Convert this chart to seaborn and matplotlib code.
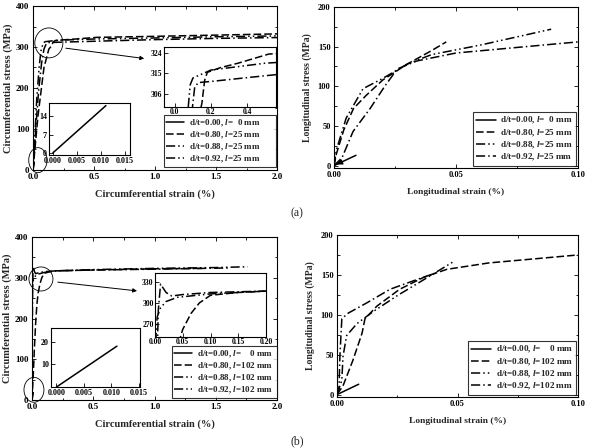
import pandas as pd
import seaborn as sns
import matplotlib
matplotlib.use("Agg")
from matplotlib import pyplot as plt
from matplotlib.patches import Ellipse
from matplotlib.ticker import AutoMinorLocator

# ---- data ----
# (a) circumferential, l = 25 mm
a_circ_x_000 = [0.0, 0.011]
a_circ_y_000 = [0.0, 18.0]
a_circ_x_080 = [0.0, 0.04, 0.09, 0.13, 0.15, 0.165, 0.18, 0.25, 0.35, 0.52, 1.0, 1.5, 2.0]
a_circ_y_080 = [0.0, 130, 250, 295, 302, 312, 315.5, 317.5, 319.5, 323.5, 326, 329, 332]
a_circ_x_088 = [0.0, 0.015, 0.03, 0.05, 0.065, 0.075, 0.085, 0.1, 0.2, 0.3, 0.5, 1.0, 1.5, 2.0]
a_circ_y_088 = [0.0, 80, 170, 250, 290, 301, 310, 313, 316.5, 317.5, 319.5, 322, 325, 327]
a_circ_x_092 = [0.0, 0.02, 0.045, 0.07, 0.09, 0.1, 0.11, 0.13, 0.2, 0.5, 1.0, 1.5, 2.0]
a_circ_y_092 = [0.0, 90, 190, 260, 295, 302, 309, 311, 311.5, 314, 318, 321, 323]

# (a) longitudinal, l = 25 mm
a_long_x_000 = [0.0, 0.009]
a_long_y_000 = [0.0, 13.0]
a_long_x_080 = [0.0, 0.001, 0.004, 0.008, 0.013, 0.02, 0.03, 0.04, 0.046]
a_long_y_080 = [0.0, 15, 45, 72, 88, 108, 128, 145, 156]
a_long_x_088 = [0.0, 0.001, 0.005, 0.0119, 0.02, 0.03, 0.04, 0.06, 0.089]
a_long_y_088 = [0.0, 20, 60, 97, 110, 128, 140, 152, 172]
a_long_x_092 = [0.0, 0.0033, 0.0078, 0.0148, 0.021, 0.026, 0.034, 0.05, 0.1]
a_long_y_092 = [0.0, 10, 43, 72, 101, 122, 132, 142, 156]

# (b) circumferential, l = 102 mm
b_circ_x_000 = [0.0, 0.011]
b_circ_y_000 = [0.0, 18.0]
b_circ_x_080 = [0.0, 0.01, 0.02, 0.03, 0.04, 0.05, 0.065, 0.08, 0.1, 0.15, 0.2, 0.5, 1.0, 1.4]
b_circ_y_080 = [0.0, 60, 130, 190, 235, 262, 285, 300, 311, 315, 317, 319, 322, 323]
b_circ_x_088 = [0.0, 0.001, 0.002, 0.004, 0.01, 0.02, 0.04, 0.1, 0.2, 0.5, 1.0, 1.5, 1.76]
b_circ_y_088 = [0.0, 150, 258, 280, 293, 302, 308, 313, 317, 320, 323, 325, 327]
b_circ_x_092 = [0.0, 0.003, 0.006, 0.01, 0.02, 0.03, 0.05, 0.1, 0.2, 0.5, 1.0, 1.6]
b_circ_y_092 = [0.0, 200, 290, 327, 315, 310, 312, 315, 317, 319, 321, 324]

# (b) longitudinal, l = 102 mm
b_long_x_000 = [0.0, 0.009]
b_long_y_000 = [0.0, 13.0]
b_long_x_080 = [0.0, 0.0025, 0.0066, 0.0104, 0.0116, 0.0166, 0.026, 0.036, 0.0456, 0.063, 0.1]
b_long_y_080 = [0.0, 11, 43, 77, 95, 111, 132, 147, 157, 165, 175]
b_long_x_088 = [0.0, 0.002, 0.0025, 0.004, 0.0083, 0.015, 0.025, 0.036, 0.048]
b_long_y_088 = [0.0, 18, 48, 74, 89, 104, 124, 144, 166]
b_long_x_092 = [0.0, 0.0008, 0.0012, 0.002, 0.0046, 0.0124, 0.022, 0.033, 0.0415]
b_long_y_092 = [0.0, 6, 48, 95, 102, 115, 132, 144, 153]

labels_a = ["d/t=0.00, $l$=  0 mm", "d/t=0.80, $l$=25 mm",
            "d/t=0.88, $l$=25 mm", "d/t=0.92, $l$=25 mm"]
labels_b = ["d/t=0.00, $l$=    0 mm", "d/t=0.80, $l$=102 mm",
            "d/t=0.88, $l$=102 mm", "d/t=0.92, $l$=102 mm"]

DASHES = ["", (5, 2), (6, 2, 1, 2, 1, 2), (6, 2, 1, 2)]

sns.set_style("ticks")
plt.rcParams["font.family"] = ["Liberation Serif", "DejaVu Serif"]
plt.rcParams["font.weight"] = "bold"
plt.rcParams["axes.labelweight"] = "bold"
plt.rcParams["mathtext.fontset"] = "custom"
plt.rcParams["mathtext.it"] = "Liberation Serif:italic:bold"
plt.rcParams["mathtext.rm"] = "Liberation Serif:bold"
plt.rcParams["axes.edgecolor"] = "black"
plt.rcParams["axes.linewidth"] = 0.8


def make_df(labels, xs_list, ys_list):
    frames = []
    for lab, xs, ys in zip(labels, xs_list, ys_list):
        frames.append(pd.DataFrame({"x": xs, "y": ys, "case": lab}))
    return pd.concat(frames, ignore_index=True)


def style_ax(ax, size, pad=2.5):
    ax.tick_params(which="both", direction="in", top=True, right=True,
                   labelsize=size, width=0.6, colors="black", pad=pad)
    ax.tick_params(which="major", length=3)
    ax.tick_params(which="minor", length=1.8)
    ax.xaxis.set_minor_locator(AutoMinorLocator(2))
    ax.yaxis.set_minor_locator(AutoMinorLocator(2))
    for lab in ax.get_xticklabels() + ax.get_yticklabels():
        lab.set_fontweight("bold")


def draw(ax, df, labels, legend):
    sns.lineplot(data=df, x="x", y="y", style="case", style_order=labels,
                 dashes=dict(zip(labels, DASHES)), color="black", sort=False,
                 estimator=None, lw=1.1, legend=legend, ax=ax)


def bold_legend(leg):
    leg.get_frame().set_edgecolor("black")
    leg.get_frame().set_linewidth(0.8)
    for t in leg.get_texts():
        t.set_fontweight("bold")


fig = plt.figure(figsize=(5.89, 4.48), dpi=100)
W, H = 589.0, 448.0


def px_axes(x0, y0, x1, y1):
    return fig.add_axes([x0 / W, 1 - y1 / H, (x1 - x0) / W, (y1 - y0) / H])


panels = [
    dict(main=(33, 6, 277, 170), right=(334, 7, 578, 168), labels=labels_a,
         circ=([a_circ_x_000, a_circ_x_080, a_circ_x_088, a_circ_x_092],
               [a_circ_y_000, a_circ_y_080, a_circ_y_088, a_circ_y_092]),
         long=([a_long_x_000, a_long_x_080, a_long_x_088, a_long_x_092],
               [a_long_y_000, a_long_y_080, a_long_y_088, a_long_y_092]),
         top=(164, 47, 276, 107), top_x=(-0.06, 0.56), top_y=(300.3, 326.6),
         top_xt=[0.0, 0.2, 0.4], top_yt=[306, 315, 324], top_fmt="%.1f",
         low=(49, 103, 130, 155), low_x=(-0.0008, 0.016), low_y=(-0.8, 19.0),
         low_yt=[0, 7, 14], leg=(164, 117, 276, 167),
         ell1=(0.13, 310, 0.23, 73), arr=((0.246, 298), (0.934, 271)),
         ell2=(0.04, 24, 0.15, 61), tag="(a)", tag_y=213, arrow_origin=True),
    dict(main=(32, 237, 277, 400), right=(337, 235, 578, 397), labels=labels_b,
         circ=([b_circ_x_000, b_circ_x_080, b_circ_x_088, b_circ_x_092],
               [b_circ_y_000, b_circ_y_080, b_circ_y_088, b_circ_y_092]),
         long=([b_long_x_000, b_long_x_080, b_long_x_088, b_long_x_092],
               [b_long_y_000, b_long_y_080, b_long_y_088, b_long_y_092]),
         top=(155, 273, 266, 337), top_x=(0.0, 0.2), top_y=(251, 343),
         top_xt=[0.0, 0.05, 0.10, 0.15, 0.20], top_yt=[270, 300, 330], top_fmt="%.2f",
         low=(51, 328, 140, 387), low_x=(-0.001, 0.0152), low_y=(0, 26),
         low_yt=[10, 20], leg=(172, 350, 277, 398),
         ell1=(0.073, 297, 0.196, 59), arr=((0.188, 290), (0.88, 267)),
         ell2=(0.016, 25, 0.163, 61), tag="(b)", tag_y=441, arrow_origin=False),
]

for p in panels:
    labels = p["labels"]
    dfc = make_df(labels, *p["circ"])
    dfl = make_df(labels, *p["long"])

    # ---- circumferential main ----
    ax = px_axes(*p["main"])
    draw(ax, dfc, labels, True)
    ax.set_xlim(0, 2.0)
    ax.set_ylim(0, 400)
    ax.set_xticks([0.0, 0.5, 1.0, 1.5, 2.0])
    ax.set_xticklabels(["0.0", "0.5", "1.0", "1.5", "2.0"])
    ax.set_yticks([0, 100, 200, 300, 400])
    ax.set_xlabel("Circumferential strain (%)", fontsize=7.5, labelpad=6)
    ax.set_ylabel("Circumferential stress (MPa)", fontsize=7.5, labelpad=2)
    style_ax(ax, 6.5)
    lx0, ly0, lx1, ly1 = p["leg"]
    mx0, my0, mx1, my1 = p["main"]
    leg = ax.legend(loc="lower left",
                    bbox_to_anchor=((lx0 - mx0) / (mx1 - mx0), (my1 - ly1) / (my1 - my0),
                                    (lx1 - lx0) / (mx1 - mx0), (ly1 - ly0) / (my1 - my0)),
                    mode="expand", fontsize=6.5, frameon=True, fancybox=False,
                    handlelength=2.0, handletextpad=0.5, borderpad=0.25,
                    labelspacing=0.1, borderaxespad=0)
    bold_legend(leg)
    ex, ey, ew, eh = p["ell1"]
    ax.add_patch(Ellipse((ex, ey), ew, eh, fill=False, lw=0.6, ec="black", clip_on=False))
    ex, ey, ew, eh = p["ell2"]
    ax.add_patch(Ellipse((ex, ey), ew, eh, fill=False, lw=0.6, ec="black", clip_on=False))
    ax.annotate("", xy=p["arr"][1], xytext=p["arr"][0],
                arrowprops=dict(arrowstyle="-|>", color="black", lw=0.7,
                                mutation_scale=6))

    # ---- upper inset (yield region) ----
    ins = px_axes(*p["top"])
    draw(ins, dfc[dfc["case"] != labels[0]], labels, False)
    ins.set_xlim(*p["top_x"])
    ins.set_ylim(*p["top_y"])
    ins.set_xticks(p["top_xt"])
    ins.set_xticklabels([p["top_fmt"] % v for v in p["top_xt"]])
    ins.set_yticks(p["top_yt"])
    ins.set_xlabel("")
    ins.set_ylabel("")
    style_ax(ins, 5.5, pad=1.0)
    ins.tick_params(which="both", top=False, right=False)
    ins.yaxis.set_minor_locator(plt.NullLocator())
    ins.xaxis.set_minor_locator(plt.NullLocator())

    # ---- lower inset (elastic start) ----
    low = px_axes(*p["low"])
    draw(low, dfc[dfc["case"] == labels[0]], labels, False)
    low.set_xlim(*p["low_x"])
    low.set_ylim(*p["low_y"])
    low.set_xticks([0.0, 0.005, 0.010, 0.015])
    low.set_xticklabels(["0.000", "0.005", "0.010", "0.015"])
    low.set_yticks(p["low_yt"])
    low.set_xlabel("")
    low.set_ylabel("")
    style_ax(low, 5.8, pad=1.5)
    low.tick_params(which="both", top=False, right=False)
    low.yaxis.set_minor_locator(plt.NullLocator())
    low.xaxis.set_minor_locator(plt.NullLocator())

    # ---- longitudinal ----
    axr = px_axes(*p["right"])
    draw(axr, dfl, labels, True)
    axr.set_xlim(0, 0.1)
    axr.set_ylim(-3, 200)
    axr.set_xticks([0.0, 0.05, 0.10])
    axr.set_xticklabels(["0.00", "0.05", "0.10"])
    axr.set_yticks([0, 50, 100, 150, 200])
    axr.set_xlabel("Longitudinal strain (%)", fontsize=6.8, labelpad=6)
    axr.set_ylabel("Longitudinal stress (MPa)", fontsize=7, labelpad=4)
    style_ax(axr, 6)
    legr = axr.legend(loc="lower right", fontsize=6.6, frameon=True, fancybox=False,
                      handlelength=2.2, handletextpad=0.5, borderpad=0.3,
                      labelspacing=0.12, borderaxespad=0.25)
    bold_legend(legr)
    if p["arrow_origin"]:
        xs, ys = p["long"][0][0], p["long"][1][0]
        axr.annotate("", xy=(xs[0], ys[0]), xytext=(xs[-1] * 0.4, ys[-1] * 0.4),
                     arrowprops=dict(arrowstyle="-|>", color="black", lw=1.0,
                                     mutation_scale=8))

    fig.text(297 / W, 1 - p["tag_y"] / H, p["tag"], ha="center", va="center",
             fontsize=8.5, fontweight="normal")

fig.savefig("out.png", dpi=100)
